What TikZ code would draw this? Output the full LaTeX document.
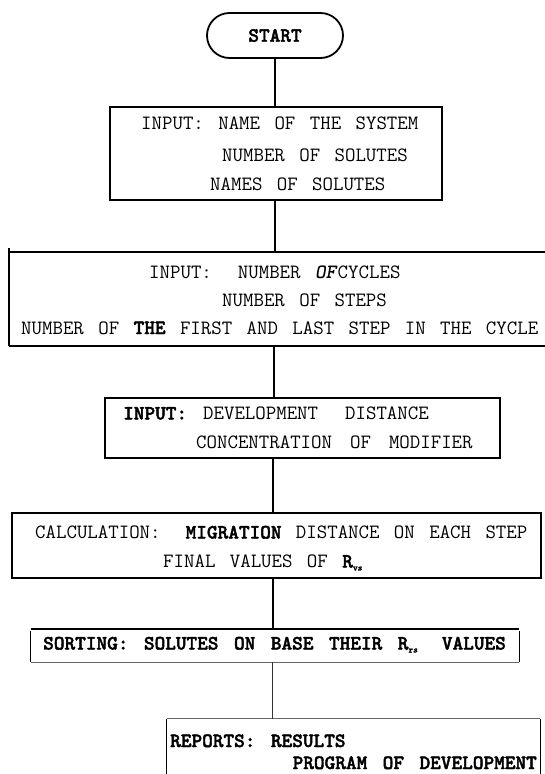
\documentclass[tikz,border=0pt]{standalone}
\usepackage{fontspec}
\usetikzlibrary{shapes.misc}
\font\heavyfont="[lmmonolt10-bold.otf]:embolden=2" at 20.3pt
\font\heavysmall="[lmmonolt10-bold.otf]:embolden=2" at 9pt
\newcommand{\hb}[1]{{\heavyfont #1}}
\newcommand{\rsub}[1]{\raisebox{-3pt}{\heavysmall #1}}
\newcommand{\tw}{\ttfamily\fontsize{20.3}{22}\selectfont\spaceskip=14.4pt\relax}
\newcommand{\twh}{\heavyfont\spaceskip=15.5pt\relax}
\begin{document}
\begin{tikzpicture}[x=1pt,y=-1pt,
  box/.style={draw, line width=1.8pt, rectangle, inner sep=0pt},
  openbox/.style={draw=none, rectangle, inner sep=0pt},
  txt/.style={anchor=base west, inner sep=0pt, font=\tw},
  btxt/.style={anchor=base west, inner sep=0pt, font=\twh},
  link/.style={line width=1.7pt},
  thinlink/.style={line width=0.9pt, black!80},
  faint/.style={line width=0.8pt, black!60}]
\useasboundingbox (0,0) rectangle (545,774);
\fill[white] (0,0) rectangle (545,774);
\clip (0,0) rectangle (545,774);

% boxes
\node[box, rounded rectangle, minimum width=136pt, minimum height=45pt,
      font=\twh] (start) at (275,35.5) {START};
\node[box, minimum width=332pt, minimum height=93pt] (b1) at (276,153.5) {};
\node[openbox, minimum width=551pt, minimum height=94pt] (b2) at (284.5,299) {};
\node[box, minimum width=395pt, minimum height=60pt] (b3) at (302.5,428) {};
\node[box, minimum width=529pt, minimum height=65pt] (b4) at (276.5,545.5) {};
\node[openbox, minimum width=488pt, minimum height=33pt] (b5) at (275,645.5) {};
\node[openbox, minimum width=373pt, minimum height=71pt] (b6) at (353.5,754.5) {};

% open box outlines
\draw[line width=1.8pt] ([yshift=4pt]b2.north west) -- (b2.south west);
\draw[line width=1.8pt] (b2.north west) -- (b2.north east);
\draw[line width=1.8pt] (b2.south west) -- (b2.south east);

\draw[line width=2pt] (b5.north west) -- (b5.north east);
\draw[line width=1.1pt] ([yshift=-2pt]b5.north west) -- (b5.south west);
\draw[line width=1.1pt] ([yshift=-2pt]b5.north east) -- (b5.south east);
\draw[faint] (b5.south west) -- (b5.south east);

\draw[faint] (b6.north west) -- (b6.north east);
\draw[line width=1.3pt] (b6.north west) -- (b6.south west);
\draw[line width=1.3pt] (b6.north east) -- (b6.south east);

% texts
\node[txt] (t11) at (141,129.5) {INPUT: NAME OF THE SYSTEM};
\node[txt] (t12) at (222,161.5) {NUMBER OF SOLUTES};
\node[txt] (t13) at (210,190.5) {NAMES OF SOLUTES};

\node[txt] (t21) at (149,278.5) {INPUT:\hspace{26pt}NUMBER \textbf{\textit{OF}}CYCLES};
\node[txt] (t22) at (222,306) {NUMBER OF STEPS};
\node[txt] (t23) at (21,334) {NUMBER OF \hb{THE} FIRST AND LAST STEP IN THE CYCLE};

\node[txt] (t31) at (123,419.5) {\hb{INPUT:}\hspace{16pt}DEVELOPMENT\hspace{27pt}DISTANCE};
\node[txt] (t32) at (196,448.5) {CONCENTRATION\hspace{18pt}OF\hspace{18pt}MODIFIER};

\node[txt] (t41) at (35,538.5) {CALCULATION:\hspace{25pt}\hb{MIGRATION} DISTANCE ON EACH STEP};
\node[txt] (t42) at (163,567.5) {FINAL VALUES OF \hb{R}\rsub{vs}};

\node[btxt] (t51) at (43,649.5) {SORTING: SOLUTES ON BASE THEIR R\rsub{rs}\hspace{24pt}VALUES};

\node[btxt] (t61) at (170,747) {REPORTS: RESULTS};
\node[btxt, anchor=base east] (t62) at (537,769) {PROGRAM OF DEVELOPMENT};

% connectors
\draw[link] (start.south) -- (start.south |- b1.north);
\draw[link] (275,0 |- b1.south) -- (275,0 |- b2.north);
\draw[link] (274,0 |- b2.south) -- (274,0 |- b3.north);
\draw[link] (273,0 |- b3.south) -- (273,0 |- b4.north);
\draw[line width=2.2pt] (273,0 |- b4.south) -- (273,0 |- b5.north);
\draw[thinlink] (272,0 |- b5.south) -- (272,0 |- b6.north);
\end{tikzpicture}
\end{document}
